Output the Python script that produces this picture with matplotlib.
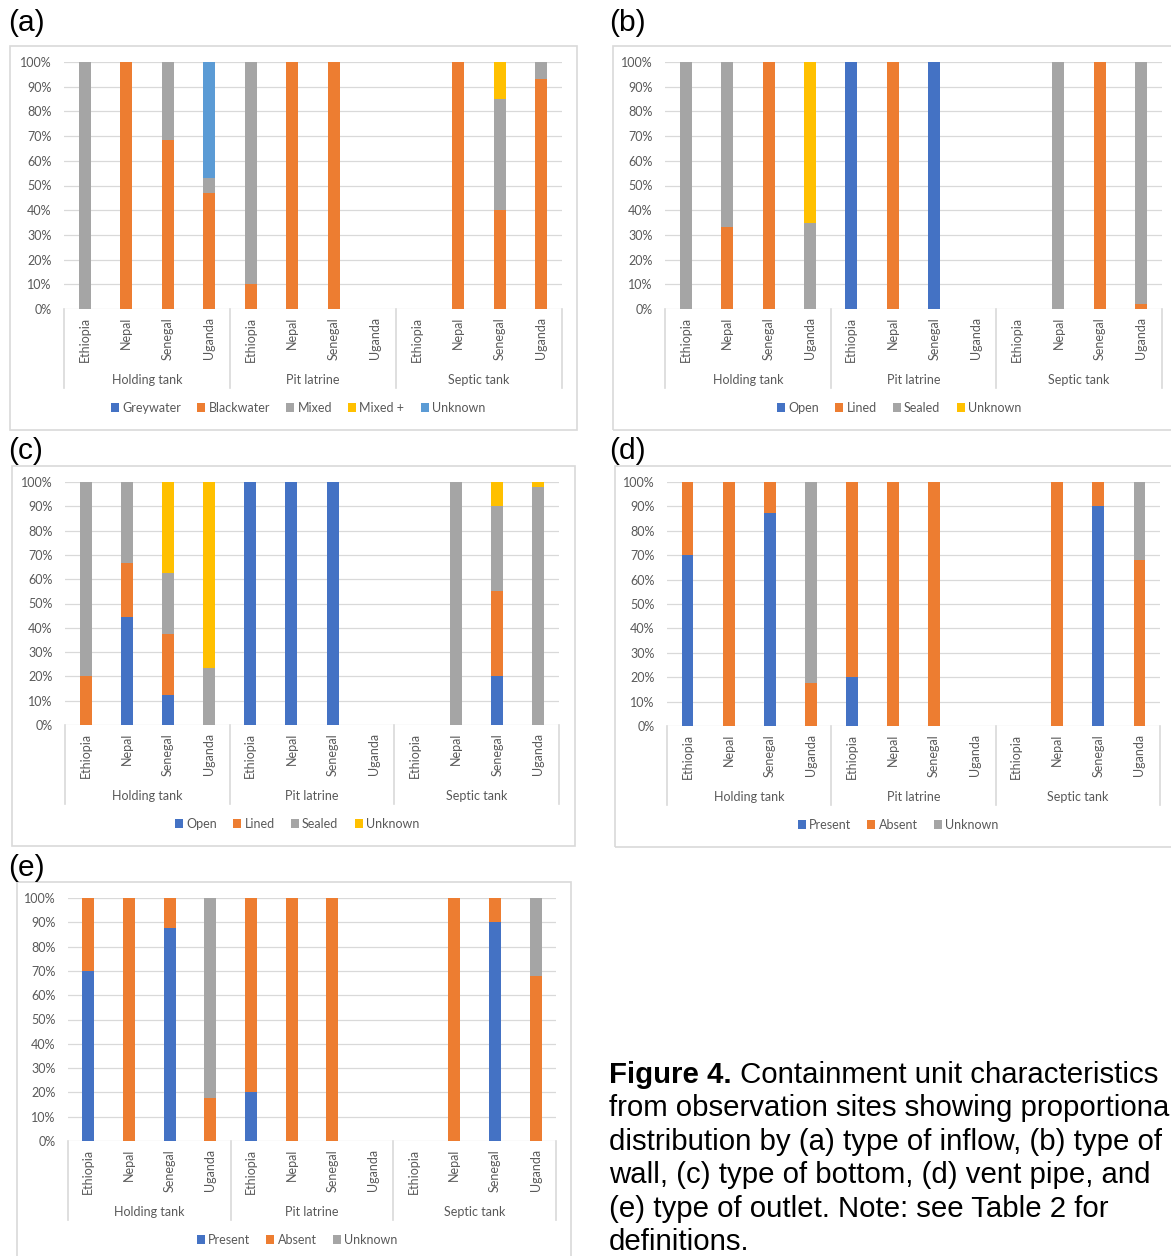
import numpy as np
import matplotlib
matplotlib.use("Agg")
import matplotlib.pyplot as plt
from matplotlib.patches import Rectangle
from matplotlib.transforms import blended_transform_factory

# ---------------------------------------
# Data (percent of observation sites)
# ---------------------------------------
countries = ["Ethiopia", "Nepal", "Senegal", "Uganda"]
groups = ["Holding tank", "Pit latrine", "Septic tank"]

# (a) type of inflow
inflow_greywater = [0, 0, 0, 0, 0, 0, 0, 0, 0, 0, 0, 0]
inflow_blackwater = [0, 100, 68.5, 47, 10, 100, 100, 0, 0, 100, 40, 93]
inflow_mixed = [100, 0, 31.5, 6, 90, 0, 0, 0, 0, 0, 45, 7]
inflow_mixedplus = [0, 0, 0, 0, 0, 0, 0, 0, 0, 0, 15, 0]
inflow_unknown = [0, 0, 0, 47, 0, 0, 0, 0, 0, 0, 0, 0]

# (b) type of wall
wall_open = [0, 0, 0, 0, 100, 0, 100, 0, 0, 0, 0, 0]
wall_lined = [0, 33, 100, 0, 0, 100, 0, 0, 0, 0, 100, 2]
wall_sealed = [100, 67, 0, 35, 0, 0, 0, 0, 0, 100, 0, 98]
wall_unknown = [0, 0, 0, 65, 0, 0, 0, 0, 0, 0, 0, 0]

# (c) type of bottom
bottom_open = [0, 44.4, 12.5, 0, 100, 100, 100, 0, 0, 0, 20, 0]
bottom_lined = [20, 22.2, 25, 0, 0, 0, 0, 0, 0, 0, 35, 0]
bottom_sealed = [80, 33.4, 25, 23.5, 0, 0, 0, 0, 0, 100, 35, 98]
bottom_unknown = [0, 0, 37.5, 76.5, 0, 0, 0, 0, 0, 0, 10, 2]

# (d) vent pipe
vent_present = [70, 0, 87.5, 0, 20, 0, 0, 0, 0, 0, 90, 0]
vent_absent = [30, 100, 12.5, 17.5, 80, 100, 100, 0, 0, 100, 10, 68]
vent_unknown = [0, 0, 0, 82.5, 0, 0, 0, 0, 0, 0, 0, 32]

# (e) type of outlet
outlet_present = [70, 0, 87.5, 0, 20, 0, 0, 0, 0, 0, 90, 0]
outlet_absent = [30, 100, 12.5, 17.5, 80, 100, 100, 0, 0, 100, 10, 68]
outlet_unknown = [0, 0, 0, 82.5, 0, 0, 0, 0, 0, 0, 0, 32]

BLUE = "#4472C4"
ORANGE = "#ED7D31"
GREY = "#A5A5A5"
YELLOW = "#FFC000"
LIGHTBLUE = "#5B9BD5"
GRID = "#D9D9D9"
TXT = "#595959"
CHART_FONT = ["Lato", "DejaVu Sans"]
CAP_FONT = ["Liberation Sans", "DejaVu Sans"]
FS = 9

W, H = 1171, 1256
fig = plt.figure(figsize=(W / 100, H / 100), dpi=100)


def fx(x):
    return x / W


def fy(y):
    return 1 - y / H


def add_panel(plot_box, frame, letter_pos, letter, series, legend_x):
    L, R, T, B = plot_box
    h = B - T
    ax = fig.add_axes([fx(L), fy(B), (R - L) / W, h / H])

    x = np.arange(len(countries) * len(groups))
    base = np.zeros(len(x))
    for name, vals, col in series:
        v = np.array(vals, dtype=float)
        ax.bar(x, v, 0.29, bottom=base, color=col, label=name, zorder=2)
        base += v

    ax.set_xlim(-0.5, 11.5)
    ax.set_ylim(0, 100)
    ticks = list(range(0, 101, 10))
    ax.set_yticks(ticks)
    ax.set_yticklabels([f"{t}%" for t in ticks], family=CHART_FONT)
    ax.yaxis.grid(True, color=GRID, lw=0.9, zorder=0)
    ax.set_axisbelow(True)
    for s in ax.spines.values():
        s.set_visible(False)
    ax.set_xticks([])
    ax.tick_params(axis="y", length=0, pad=9, labelsize=FS, labelcolor=TXT)

    # multi-level category axis
    tr = blended_transform_factory(ax.transData, ax.transAxes)
    for i in x:
        ax.text(i, -8 / h, countries[i % 4], rotation=90, ha="center",
                va="top", fontsize=FS, color=TXT, family=CHART_FONT,
                transform=tr)
    for g, name in enumerate(groups):
        ax.text(4 * g + 1.5, -71 / h, name, ha="center", va="center",
                fontsize=FS, color=TXT, family=CHART_FONT, transform=tr)
    for xb in [-0.5, 3.5, 7.5, 11.5]:
        ax.plot([xb, xb], [0, -79 / h], color=GRID, lw=1.2,
                transform=tr, clip_on=False)

    handles, labels = ax.get_legend_handles_labels()
    fig.legend(handles, labels, loc="center",
               bbox_to_anchor=(fx(legend_x), fy(B + 99)),
               ncol=len(labels), frameon=False,
               prop={"family": CHART_FONT, "size": FS}, labelcolor=TXT,
               handlelength=0.65, handleheight=0.65, handletextpad=0.25,
               columnspacing=1.3, borderpad=0, borderaxespad=0)

    fx0, fy0, fx1, fy1 = frame
    fig.patches.append(Rectangle((fx(fx0), fy(fy1)), (fx1 - fx0) / W,
                                 (fy1 - fy0) / H, transform=fig.transFigure,
                                 fill=False, edgecolor=GRID, lw=1.2))

    fig.text(fx(letter_pos[0]), fy(letter_pos[1]), letter, fontsize=21.5,
             ha="left", va="center", family=CAP_FONT)
    return ax


add_panel((64, 562, 62, 309), (10, 46, 577, 430), (8, 23), "(a)",
          [("Greywater", inflow_greywater, BLUE),
           ("Blackwater", inflow_blackwater, ORANGE),
           ("Mixed", inflow_mixed, GREY),
           ("Mixed +", inflow_mixedplus, YELLOW),
           ("Unknown", inflow_unknown, LIGHTBLUE)], 298)

add_panel((665, 1162, 62, 309), (613, 46, 1190, 430), (609, 23), "(b)",
          [("Open", wall_open, BLUE),
           ("Lined", wall_lined, ORANGE),
           ("Sealed", wall_sealed, GREY),
           ("Unknown", wall_unknown, YELLOW)], 899)

add_panel((65, 559, 482, 725), (12, 466, 575, 846), (8, 451), "(c)",
          [("Open", bottom_open, BLUE),
           ("Lined", bottom_lined, ORANGE),
           ("Sealed", bottom_sealed, GREY),
           ("Unknown", bottom_unknown, YELLOW)], 297)

add_panel((667, 1160, 482, 726), (615, 466, 1190, 847), (609, 451), "(d)",
          [("Present", vent_present, BLUE),
           ("Absent", vent_absent, ORANGE),
           ("Unknown", vent_unknown, GREY)], 898)

add_panel((68, 556, 898, 1141), (17, 882, 571, 1280), (8, 868), "(e)",
          [("Present", outlet_present, BLUE),
           ("Absent", outlet_absent, ORANGE),
           ("Unknown", outlet_unknown, GREY)], 297)

# ---------------------------------------
# Caption
# ---------------------------------------
cap_x = 609
cap_size = 21.2
cap_lines = [
    "from observation sites showing proportional",
    "distribution by (a) type of inflow, (b) type of",
    "wall, (c) type of bottom, (d) vent pipe, and",
    "(e) type of outlet. Note: see Table 2 for",
    "definitions.",
]
bold = fig.text(fx(cap_x), fy(1075), "Figure 4.", fontsize=cap_size,
                fontweight="bold", ha="left", va="center", family=CAP_FONT)
renderer = fig.canvas.get_renderer()
bb = bold.get_window_extent(renderer=renderer)
fig.text(bb.x1 / W, fy(1075), " Containment unit characteristics",
         fontsize=cap_size, ha="left", va="center", family=CAP_FONT)
for k, line in enumerate(cap_lines):
    fig.text(fx(cap_x), fy(1108.5 + 33.4 * k), line, fontsize=cap_size,
             ha="left", va="center", family=CAP_FONT)

fig.savefig("out.png", dpi=100)
